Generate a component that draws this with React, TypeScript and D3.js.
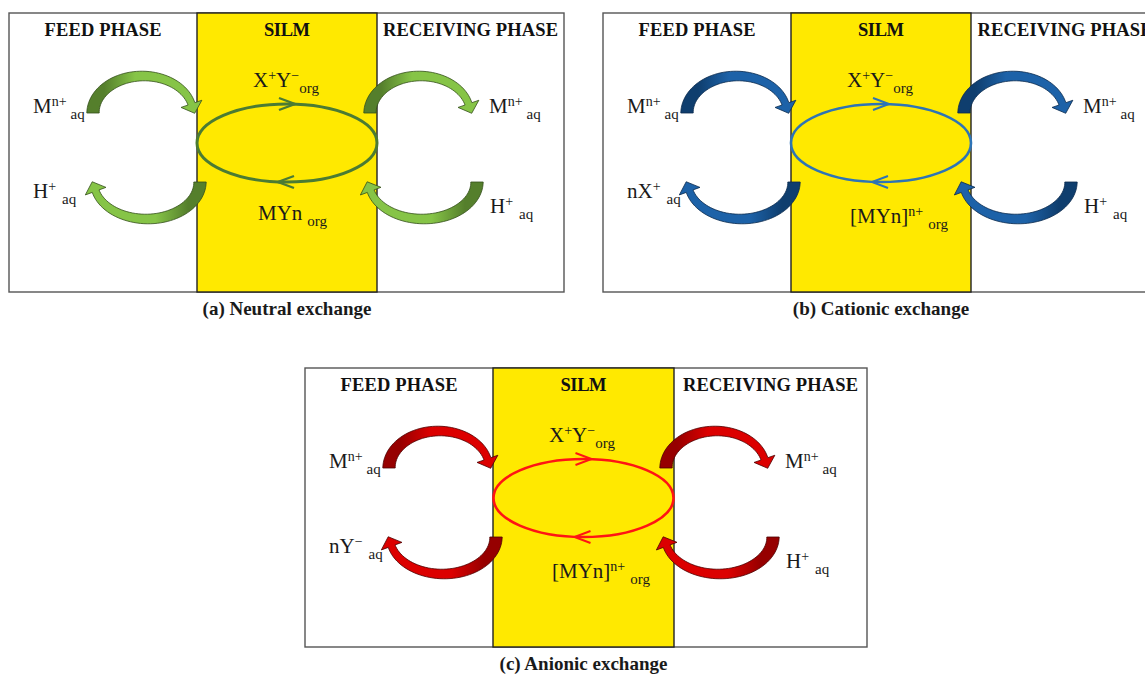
import React from "react";
import * as d3 from "d3";

const W = 1145;
const H = 676;

// panel texts
const captions = ["(a) Neutral exchange", "(b) Cationic exchange", "(c) Anionic exchange"];
const headers = ["FEED PHASE", "SILM", "RECEIVING PHASE"];
const headerWidths = [117, 46, 175];

// label pieces: [text, b=base | p=superscript | s=subscript, extra dx]
type Seg = [string, "b" | "p" | "s", number?];

const metalLabel: Seg[] = [["M", "b"], ["n+", "p"], ["aq", "s", 4]];
const carrierLabel: Seg[] = [["X", "b"], ["+", "p"], ["Y", "b"], ["\u2212", "p"], ["org", "s"]];
const feedReleased: Seg[][] = [
  [["H", "b"], ["+", "p"], ["aq", "s", 6]],
  [["nX", "b"], ["+", "p"], ["aq", "s", 6]],
  [["nY", "b"], ["\u2212", "p"], ["aq", "s", 6]],
];
const complexLabel: Seg[][] = [
  [["MYn", "b"], ["org", "s", 5]],
  [["[MYn]", "b"], ["n+", "p"], ["org", "s", 5]],
  [["[MYn]", "b"], ["n+", "p"], ["org", "s", 5]],
];
const stripLabel: Seg[] = [["H", "b"], ["+", "p"], ["aq", "s", 6]];

// colours of the three exchange types
const arrowDark = ["#557f2c", "#0f3e6e", "#960000"];
const arrowLight = ["#86c447", "#1d62a8", "#dc0000"];
const arrowEdge = ["#344f1a", "#0a2a4c", "#4d0000"];
const loopStroke = ["#4b7b33", "#2e74b5", "#ff1414"];
const loopWidth = [3, 2.6, 2.6];

// layout of each panel box on the page
const panelOrigin: [number, number][] = [[9, 13], [603, 13], [305, 368]];
const panelWidth = [555, 556, 562];
const panelHeight = 279;
const silmLeft = 188;
const silmRight = [368, 368, 369];

const FONT = "'Liberation Serif', 'Times New Roman', serif";
const size = { b: 21, p: 14, s: 15 };
const shift = { b: 0, p: -7, s: 6 };

const Label = ({ x, y, segs }: { x: number; y: number; segs: Seg[] }) => {
  let cur = 0;
  return (
    <text x={x} y={y} fontFamily={FONT} fill="#1a1a1a">
      {segs.map(([t, k, dx], i) => {
        const dy = shift[k] - cur;
        cur = shift[k];
        return (
          <tspan key={i} dy={dy} dx={dx || 0} fontSize={size[k]}>
            {t}
          </tspan>
        );
      })}
    </text>
  );
};

const line = d3.line();

// curved band arrow along half an ellipse, tail -> head
function curvedArrow(cx: number, cy: number, rx: number, ry: number, upper: boolean) {
  const thE = 0.25;
  const n = 48;
  const outer: [number, number][] = [];
  const inner: [number, number][] = [];
  const s = upper ? -1 : 1;
  const dth = upper ? -(Math.PI - thE) : Math.PI - thE;
  let end = { x: 0, y: 0, dx: 0, dy: 0, nx: 0, ny: 0 };
  for (let i = 0; i <= n; i++) {
    const t = i / n;
    const th = upper ? Math.PI - t * (Math.PI - thE) : t * (Math.PI - thE);
    const x = cx + rx * Math.cos(th);
    const y = cy + s * ry * Math.sin(th);
    let dx = -rx * Math.sin(th) * dth;
    let dy = s * ry * Math.cos(th) * dth;
    const L = Math.hypot(dx, dy);
    dx /= L;
    dy /= L;
    const nx = dy;
    const ny = -dx;
    const w = 6.2 - 2.6 * t;
    outer.push([x + nx * w, y + ny * w]);
    inner.push([x - nx * w, y - ny * w]);
    if (i === n) end = { x, y, dx, dy, nx, ny };
  }
  const wing = 11;
  const len = 10;
  const head: [number, number][] = [
    [end.x + end.nx * wing, end.y + end.ny * wing],
    [end.x + end.dx * len, end.y + end.dy * len],
    [end.x - end.nx * wing, end.y - end.ny * wing],
  ];
  return line([...outer, ...head, ...inner.reverse()]) + "Z";
}

const Panel = ({ i }: { i: number }) => {
  const [ox, oy] = panelOrigin[i];
  const w = panelWidth[i];
  const sr = silmRight[i];
  const midSilm = (silmLeft + sr) / 2;
  const colCenters = [silmLeft / 2, midSilm, (sr + w) / 2];
  const ecx = midSilm;
  const ecy = 130;
  const erx = 90;
  const ery = 39;
  const topY = 100;
  const botY = 169;
  const arrows = [
    { cx: 134, cy: topY, rx: 50, up: true },
    { cx: 138, cy: botY, rx: 53, up: false },
    { cx: 411, cy: topY, rx: 50, up: true },
    { cx: 414, cy: botY, rx: 54, up: false },
  ];
  const chevTop: [number, number][] = [
    [ecx - 8, ecy - ery - 6],
    [ecx + 8, ecy - ery],
    [ecx - 8, ecy - ery + 6],
  ];
  const chevBot: [number, number][] = [
    [ecx + 7, ecy + ery - 6],
    [ecx - 9, ecy + ery],
    [ecx + 7, ecy + ery + 6],
  ];
  return (
    <g transform={`translate(${ox},${oy})`}>
      <defs>
        <linearGradient id={`gu${i}`} x1="0" x2="1" y1="0" y2="0">
          <stop offset="0" stopColor={arrowDark[i]} />
          <stop offset="0.15" stopColor={arrowDark[i]} />
          <stop offset="0.42" stopColor={arrowLight[i]} />
          <stop offset="1" stopColor={arrowLight[i]} />
        </linearGradient>
        <linearGradient id={`gl${i}`} x1="1" x2="0" y1="0" y2="0">
          <stop offset="0" stopColor={arrowDark[i]} />
          <stop offset="0.15" stopColor={arrowDark[i]} />
          <stop offset="0.42" stopColor={arrowLight[i]} />
          <stop offset="1" stopColor={arrowLight[i]} />
        </linearGradient>
      </defs>
      <rect x={0} y={0} width={w} height={panelHeight} fill="#fff" stroke="#555" strokeWidth={1.4} />
      <rect x={silmLeft} y={0} width={sr - silmLeft} height={panelHeight} fill="#ffe900" stroke="#222" strokeWidth={1.4} />
      {headers.map((h, k) => (
        <text
          key={h}
          x={colCenters[k]}
          y={23}
          textAnchor="middle"
          fontFamily={FONT}
          fontWeight="bold"
          fontSize={18.5}
          textLength={headerWidths[k]}
          lengthAdjust="spacing"
          fill="#111"
        >
          {h}
        </text>
      ))}
      <ellipse cx={ecx} cy={ecy} rx={erx} ry={ery} fill="none" stroke={loopStroke[i]} strokeWidth={loopWidth[i]} />
      <path d={line(chevTop) || ""} fill="none" stroke={loopStroke[i]} strokeWidth={loopWidth[i] - 0.6} />
      <path d={line(chevBot) || ""} fill="none" stroke={loopStroke[i]} strokeWidth={loopWidth[i] - 0.6} />
      {arrows.map((a, k) => (
        <path
          key={k}
          d={curvedArrow(a.cx, a.cy, a.rx, 37, a.up)}
          fill={`url(#${a.up ? "gu" : "gl"}${i})`}
          stroke={arrowEdge[i]}
          strokeWidth={0.8}
        />
      ))}
      <Label x={24} y={100} segs={metalLabel} />
      <Label x={24} y={185} segs={feedReleased[i]} />
      <Label x={244} y={74} segs={carrierLabel} />
      <Label x={i === 0 ? 249 : 247} y={i === 0 ? 207 : 210} segs={complexLabel[i]} />
      <Label x={480} y={100} segs={metalLabel} />
      <Label x={481} y={200} segs={stripLabel} />
      <text
        x={midSilm}
        y={302}
        textAnchor="middle"
        fontFamily={FONT}
        fontWeight="bold"
        fontSize={19}
        fill="#1a1a1a"
      >
        {captions[i]}
      </text>
    </g>
  );
};

export default function App() {
  return (
    <svg
      width={W}
      height={H}
      viewBox={`0 0 ${W} ${H}`}
      style={{ position: "absolute", left: 0, top: 0, background: "#fff" }}
    >
      {[0, 1, 2].map((i) => (
        <Panel key={i} i={i} />
      ))}
    </svg>
  );
}
